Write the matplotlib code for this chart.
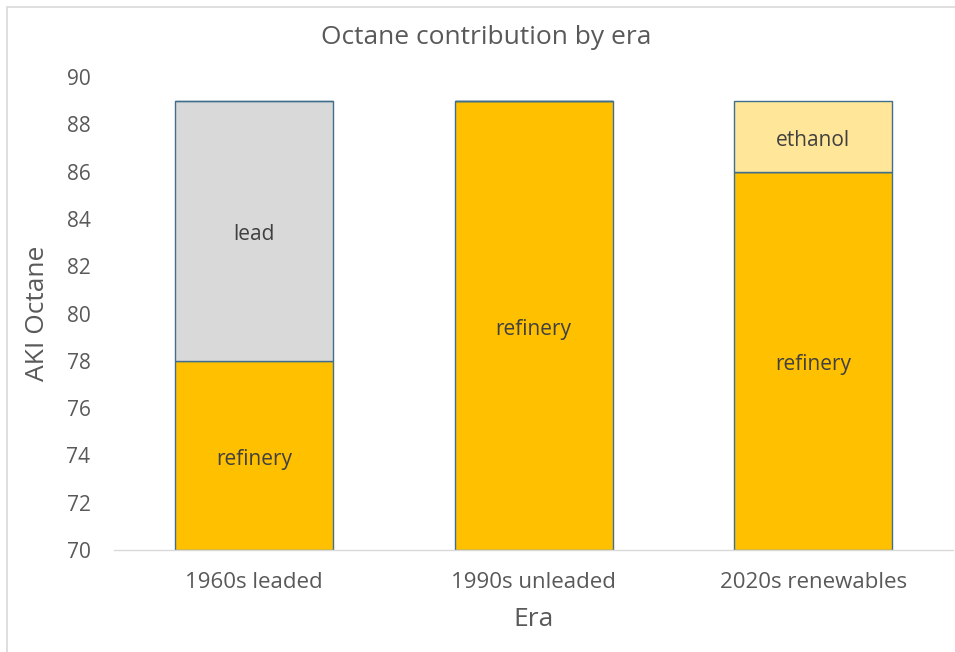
import matplotlib
matplotlib.use("Agg")
import matplotlib.pyplot as plt
from matplotlib.patches import Rectangle

plt.rcParams['font.family'] = ['Open Sans', 'DejaVu Sans']

eras = ["1960s leaded", "1990s unleaded", "2020s renewables"]
refinery = [78, 89, 86]
lead = [11, 0, 0]
ethanol = [0, 0, 3]

base = 70
fill_refinery = "#FFC000"
fill_lead = "#D9D9D9"
fill_ethanol = "#FFE699"
edge = "#3F6F8C"
text_gray = "#595959"
label_dark = "#404040"

fig = plt.figure(figsize=(9.55, 6.52), dpi=100)
ax = fig.add_axes([0.1194, 0.1564, 0.8786, 0.7255])

x = list(range(len(eras)))
width = 0.565

ref_h = [r - base for r in refinery]
ax.bar(x, ref_h, width, bottom=base, color=fill_refinery, edgecolor=edge, linewidth=1.0, zorder=2)
tops = list(refinery)
ax.bar(x, lead, width, bottom=tops, color=fill_lead, edgecolor=edge, linewidth=1.0, zorder=2)
tops = [t + l for t, l in zip(tops, lead)]
ax.bar(x, ethanol, width, bottom=tops, color=fill_ethanol, edgecolor=edge, linewidth=1.0, zorder=2)


def segment_label(xpos, ypos, text):
    ax.annotate(text, (xpos, ypos), xytext=(0, -3), textcoords="offset points",
                ha="center", va="center", fontsize=15, color=label_dark, zorder=3)


for i in x:
    segment_label(i, (base + refinery[i]) / 2, "refinery")
    if lead[i]:
        segment_label(i, refinery[i] + lead[i] / 2, "lead")
    if ethanol[i]:
        segment_label(i, refinery[i] + lead[i] + ethanol[i] / 2, "ethanol")

ax.set_xlim(-0.5, 2.5)
ax.set_ylim(70, 90)
ax.set_yticks(range(70, 91, 2))
ax.set_xticks(x)
ax.set_xticklabels(eras)
ax.tick_params(axis="both", length=0, colors=text_gray)
ax.tick_params(axis="y", pad=17, labelsize=15)
ax.tick_params(axis="x", pad=16, labelsize=16)

for s in ["top", "right", "left"]:
    ax.spines[s].set_visible(False)
ax.spines["bottom"].set_color("#D9D9D9")
ax.spines["bottom"].set_linewidth(1.0)

ax.set_ylabel("AKI Octane", fontsize=19, color=text_gray, labelpad=12)
ax.set_xlabel("Era", fontsize=19, color=text_gray, labelpad=10)
fig.text(486 / 955, 1 - 38 / 652, "Octane contribution by era", ha="center", va="center",
         fontsize=19, color=text_gray)

# chart frame
fig.patches.append(Rectangle((7 / 955, -0.05), 1.0, 1 - 7 / 652 + 0.05,
                             transform=fig.transFigure, fill=False,
                             edgecolor="#D9D9D9", linewidth=1.2))

fig.savefig("out.png", dpi=100)
